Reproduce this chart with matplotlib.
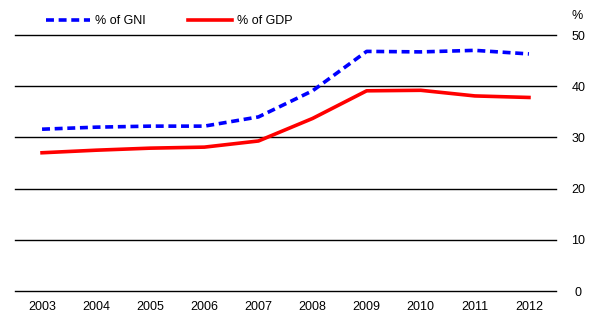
import matplotlib.pyplot as plt
import numpy as np

plt.rcParams['font.family'] = ['Liberation Sans', 'DejaVu Sans']

years = ['2003', '2004', '2005', '2006', '2007', '2008', '2009', '2010', '2011', '2012']
gni = [31.6, 32.0, 32.2, 32.2, 34.0, 39.1, 46.8, 46.7, 47.0, 46.3]
gdp = [27.0, 27.5, 27.9, 28.1, 29.3, 33.7, 39.1, 39.2, 38.1, 37.8]
yticks = [0, 10, 20, 30, 40, 50]

fig = plt.figure(figsize=(5.94, 3.29), dpi=100)
ax = fig.add_axes([15 / 594, 1 - 291 / 329, 541 / 594, 256 / 329])

x = np.arange(len(years))
ax.plot(x, gni, color='#0000ff', lw=2.6, ls=(0, (2.2, 1.3)), label='% of GNI')
ax.plot(x, gdp, color='#ff0000', lw=2.6, label='% of GDP')

ax.set_xlim(-0.5, len(years) - 0.5)
ax.set_ylim(0, 50)
ax.set_xticks(x)
ax.set_xticklabels(years, fontsize=9)
ax.set_yticks(yticks)
ax.yaxis.tick_right()
ax.tick_params(axis='y', length=0, pad=16, labelsize=9)
ax.tick_params(axis='x', length=0, pad=7)
for t in ax.get_yticklabels():
    t.set_horizontalalignment('center')
ax.grid(axis='y', color='black', lw=1)
for gl in ax.yaxis.get_gridlines():
    gl.set_clip_on(False)
ax.set_axisbelow(True)
for s in ax.spines.values():
    s.set_visible(False)

fig.text(577 / 594, 1 - 16 / 329, '%', fontsize=9, ha='center', va='center')

ax.legend(loc='lower left', bbox_to_anchor=(0.046, 1.005), ncol=2, frameon=False,
          fontsize=9, handlelength=3.5, handletextpad=0.4, columnspacing=3.4,
          borderaxespad=0.1)

fig.savefig('out.png', dpi=100)
